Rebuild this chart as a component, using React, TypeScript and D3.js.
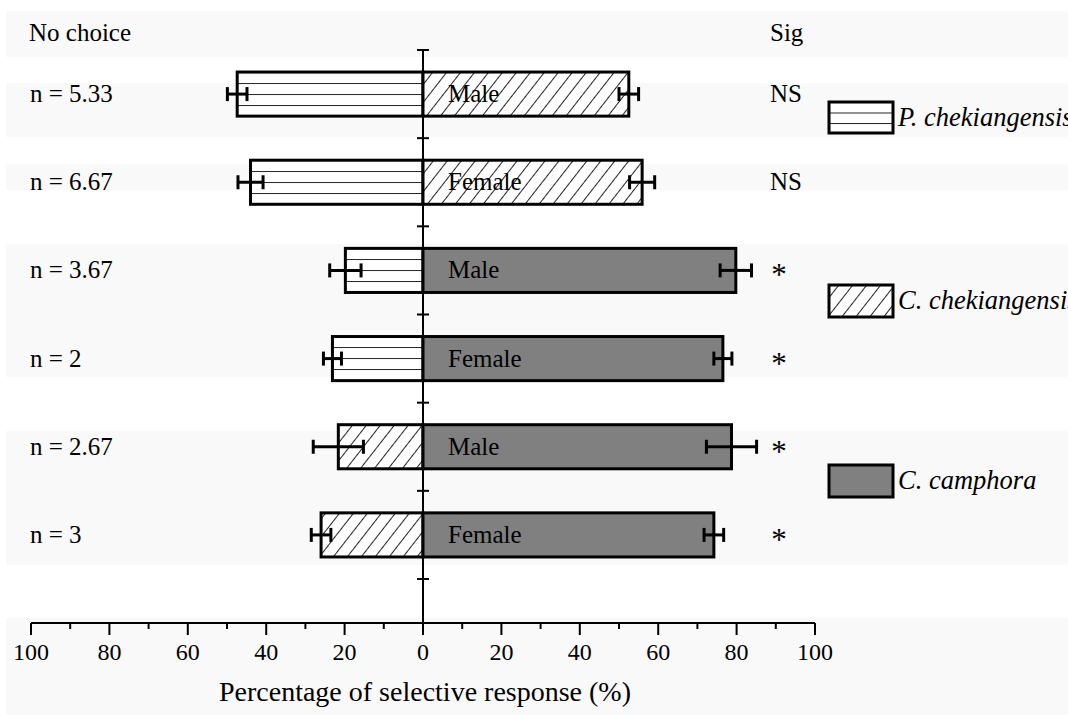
import React from "react";
import * as d3 from "d3";

// ---- data ----
const rowIds = ["r1", "r2", "r3", "r4", "r5", "r6"];
const sexLabels = ["Male", "Female", "Male", "Female", "Male", "Female"];
const nLabels = ["n = 5.33", "n = 6.67", "n = 3.67", "n = 2", "n = 2.67", "n = 3"];
const leftValues = [47.4, 44.0, 19.8, 23.1, 21.6, 26.0];
const rightValues = [52.5, 55.9, 79.8, 76.5, 78.7, 74.2];
const errValues = [2.5, 3.2, 4.0, 2.3, 6.4, 2.5];
const leftSpecies = [0, 0, 0, 0, 1, 1];
const rightSpecies = [1, 1, 2, 2, 2, 2];
const sigLabels = ["NS", "NS", "*", "*", "*", "*"];
const speciesNames = ["P. chekiangensis", "C. chekiangensis", "C. camphora"];
const xTickValues = d3.range(-100, 101, 10);

const W = 1068;
const H = 715;
const FONT = '"Liberation Serif"';

export default function App() {
  const x = d3.scaleLinear().domain([-100, 100]).range([31, 815]);
  const y = d3
    .scaleBand<string>()
    .domain(rowIds)
    .range([50, 579])
    .paddingInner(0.5)
    .paddingOuter(0.25);
  const bw = y.bandwidth();
  const step = y.step();
  const x0 = x(0);
  const axisY = 623;

  const fills = ["url(#hpat)", "url(#dpat)", "#808080"];
  const legendFills = ["url(#hpatLeg)", "url(#dpat)", "#808080"];
  const firstTop = y(rowIds[0]) as number;
  const hOffset = firstTop % 11;

  const boundaryTicks = rowIds.map((id) => (y(id) as number) - step * 0.25);
  boundaryTicks.push((y(rowIds[rowIds.length - 1]) as number) + bw + step * 0.25);

  const bands: [number, number][] = [
    [11, 57],
    [83, 137],
    [164, 190],
    [244, 377],
    [431, 565],
    [618, 715],
  ];

  const legendBoxes = [
    { y: 102, h: 31 },
    { y: 285, h: 32 },
    { y: 465, h: 32 },
  ];

  const errBar = (cx: number, cy: number, e: number, key: string) => {
    const xl = x(e) - x0;
    return (
      <g key={key} stroke="#000" strokeWidth={3}>
        <line x1={cx - xl} x2={cx + xl} y1={cy} y2={cy} />
        <line x1={cx - xl} x2={cx - xl} y1={cy - 7} y2={cy + 7} />
        <line x1={cx + xl} x2={cx + xl} y1={cy - 7} y2={cy + 7} />
      </g>
    );
  };

  const textStyle: React.CSSProperties = { fontFamily: FONT, fontSize: 25 };
  const tickStyle: React.CSSProperties = { fontFamily: FONT, fontSize: 24 };

  return (
    <svg width={W} height={H} style={{ position: "absolute", left: 0, top: 0, background: "#fff" }}>
      <defs>
        <pattern id="hpat" patternUnits="userSpaceOnUse" x={0} y={hOffset} width={10} height={11}>
          <rect width={10} height={11} fill="#fff" />
          <line x1={0} x2={10} y1={0.5} y2={0.5} stroke="#222" strokeWidth={1} />
        </pattern>
        <pattern id="hpatLeg" patternUnits="userSpaceOnUse" x={0} y={102} width={10} height={10.5}>
          <rect width={10} height={10.5} fill="#fff" />
          <line x1={0} x2={10} y1={0.5} y2={0.5} stroke="#222" strokeWidth={1} />
        </pattern>
        <pattern
          id="dpat"
          patternUnits="userSpaceOnUse"
          width={11}
          height={11}
          patternTransform="rotate(38)"
        >
          <rect width={11} height={11} fill="#fff" />
          <line x1={0.5} x2={0.5} y1={0} y2={11} stroke="#222" strokeWidth={1} />
        </pattern>
      </defs>

      {/* background bands */}
      {bands.map(([a, b], i) => (
        <rect key={"band" + i} x={6} y={a} width={W - 6} height={b - a} fill="#f9f9f9" />
      ))}

      {/* header texts */}
      <text x={29} y={41} style={textStyle}>No choice</text>
      <text x={770} y={41} style={textStyle}>Sig</text>

      {/* bars */}
      {rowIds.map((id, i) => {
        const top = y(id) as number;
        const cy = top + bw / 2;
        return (
          <g key={id}>
            <rect
              x={x(-leftValues[i])}
              y={top}
              width={x0 - x(-leftValues[i])}
              height={bw}
              fill={fills[leftSpecies[i]]}
              stroke="#000"
              strokeWidth={3}
            />
            <rect
              x={x0}
              y={top}
              width={x(rightValues[i]) - x0}
              height={bw}
              fill={fills[rightSpecies[i]]}
              stroke="#000"
              strokeWidth={3}
            />
            {errBar(x(-leftValues[i]), cy, errValues[i], id + "el")}
            {errBar(x(rightValues[i]), cy, errValues[i], id + "er")}
            <text x={x0 + 25} y={cy + 8} style={textStyle}>{sexLabels[i]}</text>
            <text x={30} y={cy + 8} style={textStyle}>{nLabels[i]}</text>
            {sigLabels[i] === "*" ? (
              <text x={779} y={cy + 15} textAnchor="middle" style={{ ...textStyle, fontSize: 31 }}>
                *
              </text>
            ) : (
              <text x={770} y={cy + 8} style={textStyle}>{sigLabels[i]}</text>
            )}
          </g>
        );
      })}

      {/* vertical axis at zero */}
      <line x1={x0} x2={x0} y1={boundaryTicks[0]} y2={axisY + 12} stroke="#000" strokeWidth={2} />
      {boundaryTicks.map((t, i) => (
        <line key={"bt" + i} x1={x0 - 6} x2={x0 + 6} y1={t} y2={t} stroke="#000" strokeWidth={2} />
      ))}

      {/* horizontal axis */}
      <line x1={x(-100)} x2={x(100)} y1={axisY} y2={axisY} stroke="#000" strokeWidth={2} />
      {xTickValues.map((v) => {
        const major = v % 20 === 0;
        return (
          <g key={"xt" + v}>
            <line
              x1={x(v)}
              x2={x(v)}
              y1={axisY}
              y2={axisY + (major ? 12 : 6)}
              stroke="#000"
              strokeWidth={2}
            />
            {major && (
              <text x={x(v)} y={660} textAnchor="middle" style={tickStyle}>
                {Math.abs(v)}
              </text>
            )}
          </g>
        );
      })}
      <text x={x0 + 2} y={701} textAnchor="middle" style={{ ...textStyle, fontSize: 28 }}>
        Percentage of selective response (%)
      </text>

      {/* legend */}
      {speciesNames.map((name, i) => {
        const b = legendBoxes[i];
        return (
          <g key={"leg" + i}>
            <rect
              x={829}
              y={b.y}
              width={64}
              height={b.h}
              fill={legendFills[i]}
              stroke="#000"
              strokeWidth={3}
            />
            <text
              x={898}
              y={b.y + b.h / 2 + 8}
              style={{ ...textStyle, fontSize: 26.5, fontStyle: "italic" }}
            >
              {name}
            </text>
          </g>
        );
      })}
    </svg>
  );
}
